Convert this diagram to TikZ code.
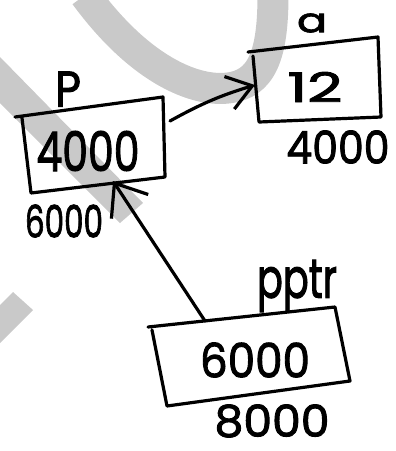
\documentclass[tikz,border=0pt]{standalone}
\usepackage{fontspec}
\setmainfont{Poppins}[FakeBold=2]
\usetikzlibrary{arrows.meta}

% \hw{width}{height}{text}: handwriting-sized label
\newcommand{\hw}[3]{\resizebox*{#1}{#2}{#3}}

\begin{document}
\begin{tikzpicture}[x=1pt, y=-1pt,
  ink/.style={line width=3.2pt, line join=round, line cap=round},
  label/.style={inner sep=0pt, outer sep=0pt},
  shade/.style={fill=black!21, draw=none},
  tipA/.style={-{Straight Barb[length=24pt, width=34pt, line width=3.2pt]}},
  tipB/.style={-{Straight Barb[length=28pt, width=44pt, line width=3.2pt]}}]
\useasboundingbox (0,0) rectangle (396,451);

% faint background strokes
\fill[shade] (0,57) -- (143,203) -- (120,223) -- (0,103) -- cycle;
\fill[shade] (0,305) -- (13,292) -- (33,310) -- (0,343) -- cycle;
\draw[black!21, line width=31pt, line cap=butt]
  (85,-5) .. controls (140,70) and (195,92) .. (228,88)
          .. controls (262,84) and (273,55) .. (273,-5);

% box p
\draw[ink] (15,117) -- (163,97) -- (165,177) -- (31,193) -- (22,118);
\node[label] (pname) at (68,89)  {\hw{26pt}{35pt}{P}};
\node[label] (pval)  at (88,151) {\hw{103pt}{40pt}{4000}};
\node[label] (paddr) at (64,221) {\hw{78pt}{33pt}{6000}};

% box a
\draw[ink] (248,52) -- (378,37) -- (381,117) -- (259,122) -- (253,56);
\node[label] (aname) at (312,23)  {\hw{30pt}{19pt}{a}};
\node[label] (aval)  at (315,87)  {\hw{55pt}{30pt}{12}};
\node[label] (aaddr) at (338,147) {\hw{103pt}{33pt}{4000}};

% box pptr
\draw[ink] (148,327) -- (335,307) -- (350,381) -- (167,406) -- (152,330);
\node[label] (qname) at (297,286) {\hw{80pt}{52pt}{pptr}};
\node[label] (qval)  at (255,360) {\hw{110pt}{35pt}{6000}};
\node[label] (qaddr) at (272,421) {\hw{115pt}{33pt}{8000}};

% connector end points on the box edges
\coordinate (pout) at (170,121);
\coordinate (ain)  at (255,85);
\coordinate (qout) at (205,321);
\coordinate (pin)  at (113,181);

\draw[ink, tipA] (pout) to[bend left=6] (ain);
\draw[ink, tipB] (qout) -- (pin);
\end{tikzpicture}
\end{document}
